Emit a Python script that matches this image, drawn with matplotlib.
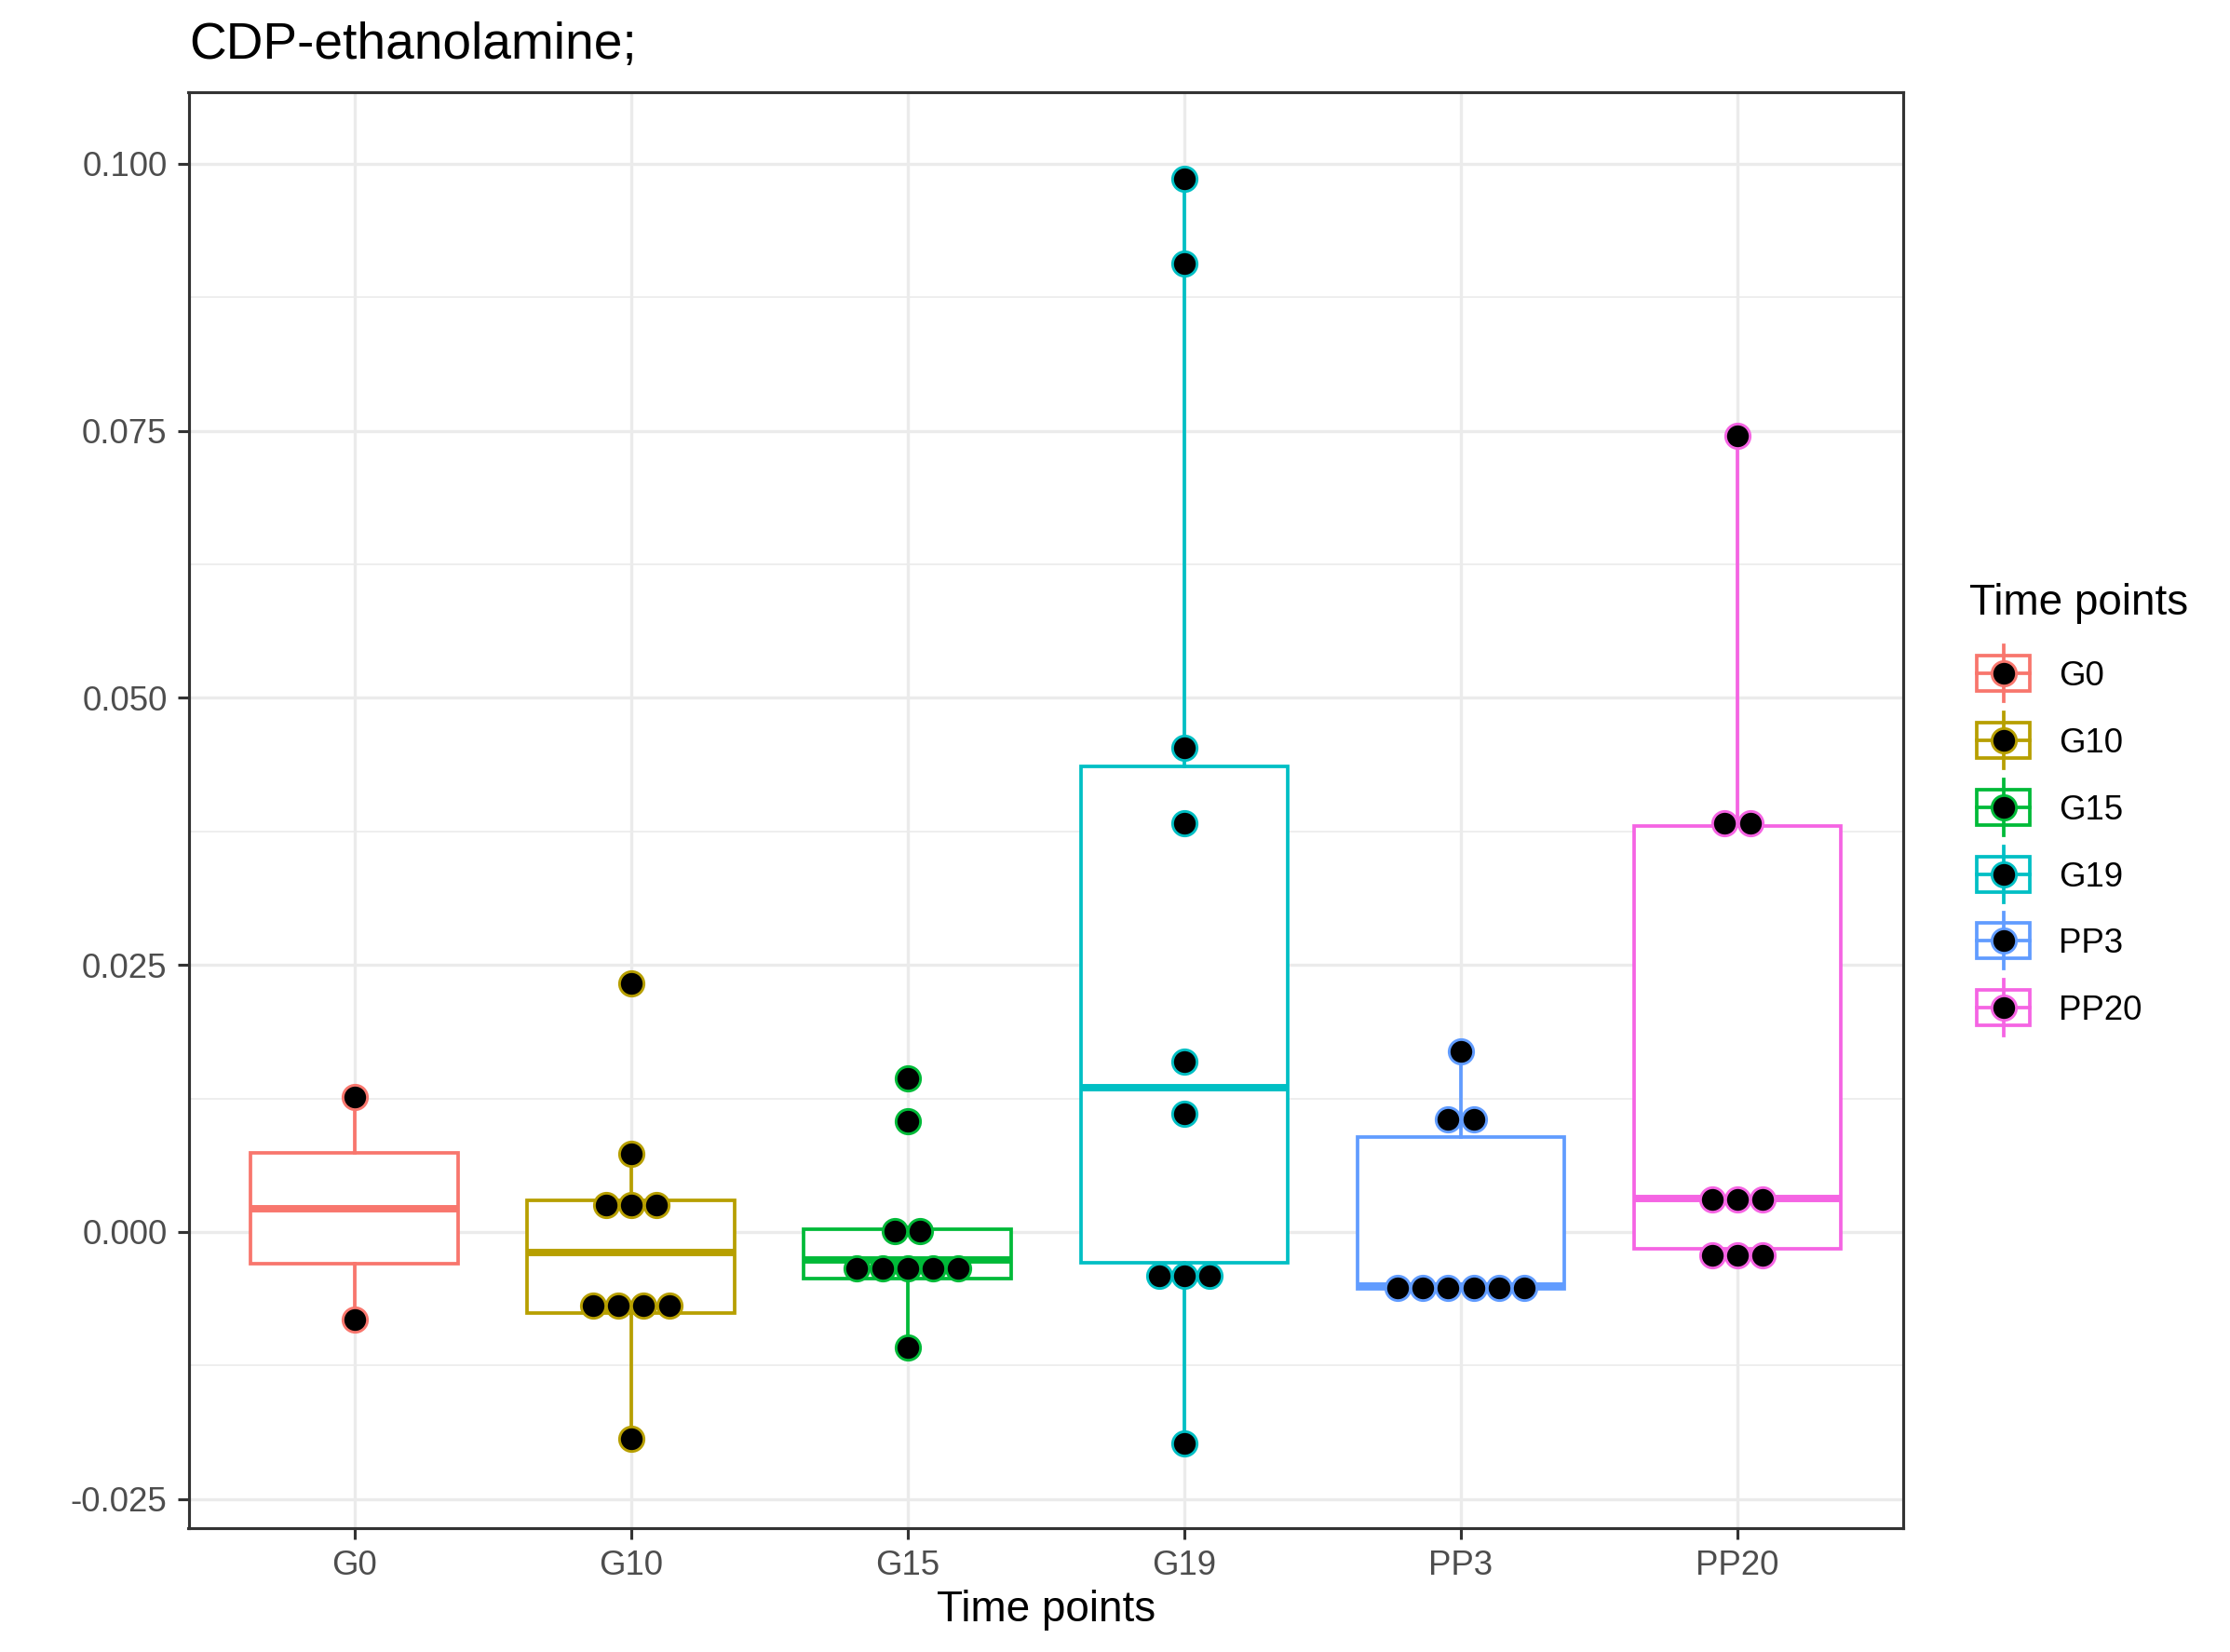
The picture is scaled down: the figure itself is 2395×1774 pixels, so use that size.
import numpy as np
import matplotlib
matplotlib.use('Agg')
import matplotlib.pyplot as plt
from matplotlib.patches import Rectangle
from matplotlib.lines import Line2D

plt.rcParams['font.family'] = ['Liberation Sans', 'DejaVu Sans']

############
# data
############
groups = ['G0', 'G10', 'G15', 'G19', 'PP3', 'PP20']
colors = ['#F8766D', '#B79F00', '#00BA38', '#00BFC4', '#619CFF', '#F564E3']

g0 = [-0.0082, 0.0126]
g10 = [-0.0194, -0.0080, -0.0076, -0.0075, -0.0058, 0.00194, 0.0022, 0.00316, 0.0073, 0.02325]
g15 = [-0.0108, -0.0045, -0.0044, -0.0043, -0.0029, -0.0023, -0.00029, 0.00043, 0.01034, 0.01435]
g19 = [-0.01975, -0.00556, -0.0030, -0.0026, 0.01108, 0.01592, 0.03825, 0.04533, 0.09067, 0.09858]
pp3 = [-0.0054, -0.0053, -0.0053, -0.0052, -0.0051, -0.0050, 0.00888, 0.01224, 0.01692]
pp20 = [-0.00276, -0.0022, -0.00154, 0.0025, 0.00314, 0.0036, 0.0380, 0.0386, 0.0745]
values = [g0, g10, g15, g19, pp3, pp20]

y_ticks = [-0.025, 0.0, 0.025, 0.05, 0.075, 0.1]
y_minor = [-0.0125, 0.0125, 0.0375, 0.0625, 0.0875]

title = 'CDP-ethanolamine;'
x_title = 'Time points'
legend_title = 'Time points'

BINWIDTH = 0.0035


############
# helpers
############
def dot_bins(vals, binwidth):
    # dot-density binning, like ggplot's geom_dotplot
    bins = []
    binend = -np.inf
    for v in sorted(vals):
        if v >= binend:
            bins.append([v])
            binend = v + binwidth
        else:
            bins[-1].append(v)
    return [((min(b) + max(b)) / 2., len(b)) for b in bins]

W, H = 2395, 1774
DPI = 300

def fx(px):
    return px / float(W)

def fy(py):
    return 1 - py / float(H)


############
# figure
############
fig = plt.figure(figsize=(W / DPI, H / DPI), dpi=DPI)
left, right, top, bottom = 202.5, 2044.3, 99.0, 1640.7
ax = fig.add_axes([fx(left), fy(bottom), fx(right - left), (bottom - top) / H])

pos = np.arange(len(groups))
bp = ax.boxplot(values, positions=pos, widths=0.75, whis=1.5, patch_artist=True,
                showfliers=False, showcaps=False, zorder=2)
for i, c in enumerate(colors):
    bp['boxes'][i].set(edgecolor=c, facecolor='white', linewidth=0.9)
    bp['medians'][i].set(color=c, linewidth=1.9, solid_capstyle='butt')
    for w in bp['whiskers'][2 * i:2 * i + 2]:
        w.set(color=c, linewidth=0.9)

# dots stacked sideways, centered
xlim = (-0.6, len(groups) - 0.4)
dot_px = 27.2
dot_dx = dot_px * (xlim[1] - xlim[0]) / (right - left)
for i, vals in enumerate(values):
    for center, n in dot_bins(vals, BINWIDTH):
        xs = i + (np.arange(n) - (n - 1) / 2.) * dot_dx
        ax.plot(xs, [center] * n, 'o', ms=6.3, mfc='black', mec=colors[i],
                mew=0.7, zorder=4, clip_on=False)

ax.set_xlim(*xlim)
ax.set_ylim(-0.0277, 0.1067)
ax.set_xticks(pos)
ax.set_xticklabels(groups)
ax.set_yticks(y_ticks)
ax.set_yticklabels(['%.3f' % t for t in y_ticks])
ax.set_yticks(y_minor, minor=True)

ax.set_axisbelow(True)
ax.grid(which='major', color='#EBEBEB', linewidth=0.8)
ax.grid(which='minor', axis='y', color='#EBEBEB', linewidth=0.4)
for s in ax.spines.values():
    s.set_color('#333333')
    s.set_linewidth(0.75)
ax.tick_params(which='major', length=2.9, width=0.75, color='#333333',
               labelcolor='#4D4D4D', labelsize=8.8, pad=2.6)
ax.tick_params(which='minor', length=0)

fig.text(fx(203), fy(63), title, fontsize=13.2, ha='left', va='baseline')
fig.text(fx((left + right) / 2), fy(1741), x_title, fontsize=11, ha='center', va='baseline')

############
# legend
############
fig.text(fx(2115), fy(660), legend_title, fontsize=11, ha='left', va='baseline')
key_cx, key_w, key_h, whisk = 2151.5, 57.5, 38.0, 30.0
for i, (name, c) in enumerate(zip(groups, colors)):
    cy = 722.8 + i * 71.9
    fig.add_artist(Line2D([fx(key_cx), fx(key_cx)], [fy(cy - whisk), fy(cy + whisk)],
                          color=c, linewidth=0.9, transform=fig.transFigure))
    fig.add_artist(Rectangle((fx(key_cx - key_w / 2), fy(cy + key_h / 2)), key_w / W, key_h / H,
                             facecolor='white', edgecolor=c, linewidth=0.9,
                             transform=fig.transFigure))
    fig.add_artist(Line2D([fx(key_cx - key_w / 2), fx(key_cx + key_w / 2)], [fy(cy), fy(cy)],
                          color=c, linewidth=0.9, transform=fig.transFigure))
    fig.add_artist(Line2D([fx(key_cx)], [fy(cy)], marker='o', ms=6.3, mfc='black', mec=c,
                          mew=0.7, linestyle='none', transform=fig.transFigure))
    fig.text(fx(2211), fy(cy + 13), name, fontsize=8.8, ha='left', va='baseline')

fig.savefig('out.png', dpi=DPI)
